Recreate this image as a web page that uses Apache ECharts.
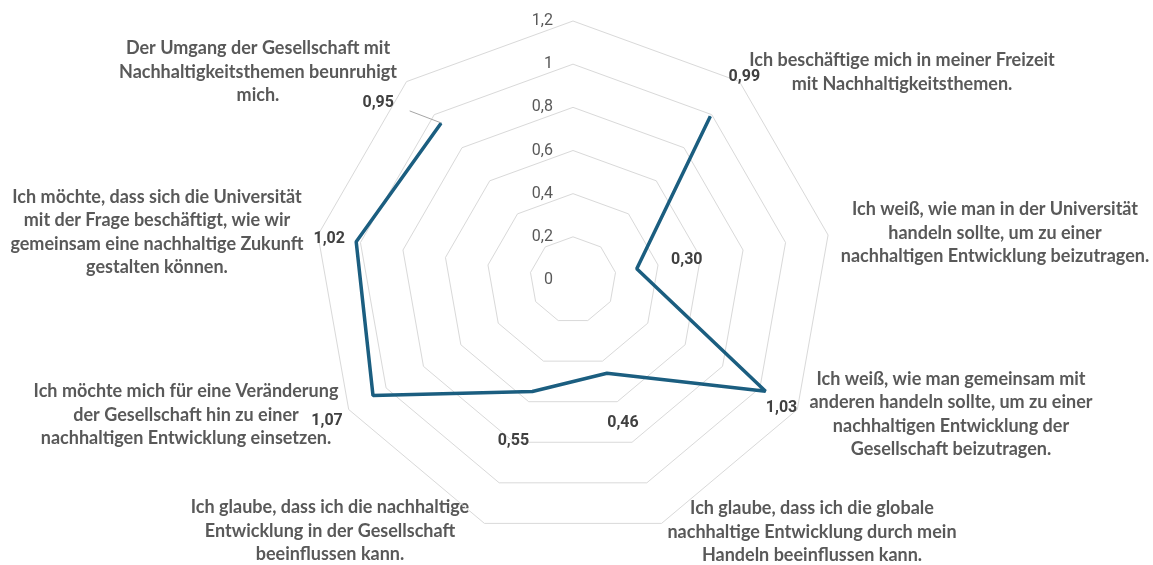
<!DOCTYPE html>
<html>
<head>
<meta charset="utf-8">
<script src="https://cdn.jsdelivr.net/npm/echarts@6/dist/echarts.min.js"></script>
<style>html,body{margin:0;padding:0;background:#fff;}#c{width:1153px;height:565px;}</style>
</head>
<body>
<div id="c"></div>
<script>
// ---- data ----
const categories = [
  '',
  'Ich beschäftige mich in meiner Freizeit\nmit Nachhaltigkeitsthemen.',
  'Ich weiß, wie man in der Universität\nhandeln sollte, um zu einer\nnachhaltigen Entwicklung beizutragen.',
  'Ich weiß, wie man gemeinsam mit\nanderen handeln sollte, um zu einer\nnachhaltigen Entwicklung der\nGesellschaft beizutragen.',
  'Ich glaube, dass ich die globale\nnachhaltige Entwicklung durch mein\nHandeln beeinflussen kann.',
  'Ich glaube, dass ich die nachhaltige\nEntwicklung in der Gesellschaft\nbeeinflussen kann.',
  'Ich möchte mich für eine Veränderung\nder Gesellschaft hin zu einer\nnachhaltigen Entwicklung einsetzen.',
  'Ich möchte, dass sich die Universität\nmit der Frage beschäftigt, wie wir\ngemeinsam eine nachhaltige Zukunft\ngestalten können.',
  'Der Umgang der Gesellschaft mit\nNachhaltigkeitsthemen beunruhigt\nmich.'
];
const values = [null, 0.99, 0.30, 1.03, 0.46, 0.55, 1.07, 1.02, 0.95];
const axisMin = 0, axisMax = 1.2, axisStep = 0.2;

// ---- layout (not data) ----
const center = [573, 280];
const radius = 259;
const valueLabelOffsets = [null, [34,-39], [50,-9], [16,17], [16,50], [-19,49], [-46,26], [-27,-3], [-63,-20]];
const catLabelPos = [null, [902,72], [995,233], [951,414], [812,532], [330,531], [186,415], [157,232], [258,72]];

const fmt = v => String(Math.round(v * 10) / 10).replace('.', ',');

const chart = echarts.init(document.getElementById('c'), null, {renderer: 'canvas'});

const seriesData = values.map((v, i) => {
  if (v === null) return null;
  const item = { value: v, label: { offset: valueLabelOffsets[i] } };
  if (i === 8) item.labelLine = { show: true };
  return item;
});

const graphics = categories.map((c, i) => {
  if (!c) return null;
  return {
    type: 'text',
    x: catLabelPos[i][0], y: catLabelPos[i][1],
    silent: true,
    style: {
      text: c, align: 'center', verticalAlign: 'middle',
      font: 'bold 18px Lato', fill: '#595959', lineHeight: 23.5
    }
  };
}).filter(Boolean);

chart.setOption({
  animation: false,
  backgroundColor: '#ffffff',
  radar: {
    center: center, radius: radius, startAngle: 90,
    splitNumber: 6, shape: 'polygon',
    indicator: categories.map(() => ({ name: '', min: axisMin, max: axisMax })),
    axisName: { show: false },
    axisLine: { show: false },
    axisTick: { show: false },
    axisLabel: { show: false },
    splitArea: { show: false },
    splitLine: { lineStyle: { color: '#d9d9d9', width: 1 } }
  },
  polar: { center: center, radius: radius },
  angleAxis: {
    type: 'category', data: categories, startAngle: 90, clockwise: true, boundaryGap: false,
    axisLine: { show: false }, axisTick: { show: false }, axisLabel: { show: false }, splitLine: { show: false }
  },
  radiusAxis: {
    min: axisMin, max: axisMax, interval: axisStep,
    axisLine: { show: false }, axisTick: { show: false }, splitLine: { show: false },
    axisLabel: {
      margin: 20, color: '#595959', fontSize: 16, fontFamily: 'Roboto',
      formatter: v => fmt(v)
    }
  },
  series: [{
    type: 'line', coordinateSystem: 'polar',
    data: seriesData, connectNulls: false,
    symbol: 'circle', symbolSize: 1, showSymbol: true,
    itemStyle: { color: '#1b5e80' },
    lineStyle: { color: '#1b5e80', width: 3.5 },
    label: {
      show: true, position: 'inside',
      formatter: p => p.value.toFixed(2).replace('.', ','),
      color: '#404040', fontWeight: 'bold', fontSize: 16, fontFamily: 'Roboto'
    },
    labelLine: { show: false, lineStyle: { color: '#a6a6a6', width: 1 } }
  }],
  graphic: graphics
});
</script>
</body>
</html>
